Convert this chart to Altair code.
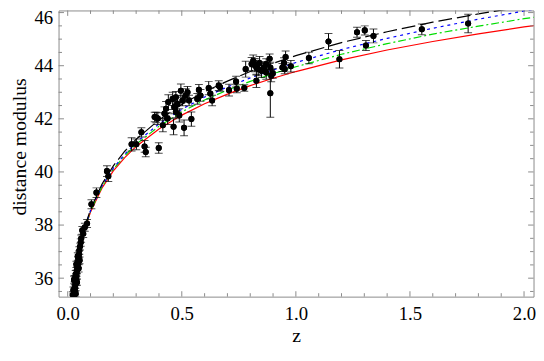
import altair as alt
import pandas as pd

# ---------------- data ----------------
sn_z = [0.022, 0.025, 0.028, 0.029, 0.031, 0.032, 0.033, 0.035, 0.028, 0.036,
        0.038, 0.035, 0.039, 0.041, 0.048, 0.042, 0.045, 0.038, 0.046, 0.052,
        0.048, 0.044, 0.049, 0.051, 0.054, 0.057, 0.059, 0.064, 0.068, 0.075,
        0.085, 0.104, 0.126, 0.041, 0.035, 0.030,
        0.172, 0.178, 0.280, 0.301, 0.323, 0.337, 0.342, 0.399, 0.381, 0.388,
        0.395, 0.417, 0.424, 0.431, 0.438, 0.441, 0.460, 0.464, 0.467, 0.474,
        0.474, 0.481, 0.489, 0.496, 0.503, 0.510, 0.517, 0.525, 0.532, 0.542,
        0.568, 0.575, 0.582, 0.618, 0.625, 0.633, 0.662, 0.668, 0.707, 0.738,
        0.741, 0.774, 0.780, 0.806, 0.813, 0.820, 0.827, 0.827, 0.835, 0.841,
        0.849, 0.860, 0.870, 0.870,
        0.885, 0.888, 0.892, 0.899, 0.888, 0.941, 0.948, 0.955, 0.951, 0.978,
        1.057, 1.143, 1.191, 1.268, 1.302, 1.307, 1.340, 1.552, 1.755]
sn_mu = [35.37, 35.55, 35.29, 35.41, 35.52, 35.63, 35.74, 35.85, 35.93, 35.96,
         36.07, 36.15, 36.19, 36.30, 36.37, 36.41, 36.52, 36.52, 36.67, 36.67,
         36.78, 36.82, 36.89, 37.04, 37.19, 37.34, 37.49, 37.80, 37.67, 37.92,
         38.06, 38.78, 39.22, 35.85, 35.41, 35.98,
         40.03, 39.84, 41.04, 41.04, 41.49, 40.96, 40.75, 40.90, 42.07, 42.05,
         42.01, 41.76, 42.20, 42.38, 42.01, 42.63, 42.75, 41.70, 42.44, 42.26,
         42.81, 42.57, 42.13, 43.06, 42.69, 41.66, 42.88, 43.00, 42.69, 41.99,
         42.75, 43.09, 42.88, 43.16, 42.95, 42.69, 43.25, 43.19, 43.08, 43.40,
         43.13, 43.16, 43.87, 44.06, 44.18, 44.02, 43.93, 43.43, 43.87, 44.10,
         43.81, 43.93, 43.74, 44.06,
         44.26, 43.93, 43.62, 43.71, 42.96, 43.93, 44.10, 44.33, 43.87, 43.98,
         44.29, 44.91, 44.24, 45.26, 45.33, 44.76, 45.12, 45.37, 45.59]
sn_err = [0.12, 0.12, 0.12, 0.12, 0.14, 0.12, 0.13, 0.12, 0.14, 0.13,
          0.12, 0.14, 0.12, 0.13, 0.14, 0.12, 0.13, 0.12, 0.14, 0.13,
          0.12, 0.14, 0.13, 0.14, 0.13, 0.14, 0.14, 0.15, 0.14, 0.15,
          0.15, 0.17, 0.18, 0.12, 0.12, 0.12,
          0.20, 0.20, 0.25, 0.20, 0.17, 0.22, 0.18, 0.20, 0.18, 0.20,
          0.22, 0.25, 0.25, 0.27, 0.22, 0.28, 0.25, 0.30, 0.25, 0.22,
          0.22, 0.30, 0.25, 0.25, 0.20, 0.30, 0.25, 0.22, 0.20, 0.27,
          0.20, 0.20, 0.22, 0.25, 0.20, 0.20, 0.18, 0.15, 0.22, 0.20,
          0.15, 0.12, 0.30, 0.25, 0.22, 0.25, 0.28, 0.25, 0.25, 0.25,
          0.25, 0.22, 0.25, 0.20,
          0.18, 0.20, 0.22, 0.18, 0.90, 0.15, 0.20, 0.22, 0.17, 0.22,
          0.22, 0.30, 0.33, 0.19, 0.17, 0.19, 0.26, 0.20, 0.35]

curve_z = [0.022, 0.03, 0.04, 0.05, 0.06, 0.075, 0.1, 0.15, 0.2, 0.25, 0.3, 0.4,
           0.5, 0.6, 0.7, 0.8, 0.9, 1.0, 1.2, 1.4, 1.6, 1.8, 2.0, 2.05]
mu_black = [35.18, 35.87, 36.51, 37.01, 37.42, 37.93, 38.59, 39.54, 40.23, 40.78, 41.23, 41.96,
            42.54, 43.02, 43.42, 43.78, 44.09, 44.38, 44.87, 45.28, 45.64, 45.95, 46.23, 46.30]
mu_blue = [35.17, 35.86, 36.49, 36.99, 37.39, 37.89, 38.55, 39.47, 40.14, 40.67, 41.11, 41.81,
           42.36, 42.82, 43.20, 43.54, 43.84, 44.12, 44.61, 45.03, 45.41, 45.75, 46.06, 46.14]
mu_green = [35.17, 35.85, 36.48, 36.98, 37.38, 37.87, 38.52, 39.44, 40.10, 40.61, 41.04, 41.72,
            42.26, 42.71, 43.08, 43.41, 43.70, 43.96, 44.43, 44.83, 45.19, 45.49, 45.77, 45.83]
mu_red = [35.16, 35.84, 36.47, 36.96, 37.36, 37.85, 38.49, 39.39, 40.04, 40.54, 40.96, 41.62,
          42.14, 42.57, 42.93, 43.25, 43.53, 43.78, 44.22, 44.59, 44.91, 45.20, 45.46, 45.52]

x_major = [0.0, 0.5, 1.0, 1.5, 2.0]
x_minor = [0.1, 0.2, 0.3, 0.4, 0.6, 0.7, 0.8, 0.9, 1.1, 1.2, 1.3, 1.4,
           1.6, 1.7, 1.8, 1.9]
y_major = [36, 38, 40, 42, 44, 46]
y_minor = [35.5, 36.5, 37, 37.5, 38.5, 39, 39.5, 40.5, 41, 41.5, 42.5, 43,
           43.5, 44.5, 45, 45.5]

# ---------------- layout / style ----------------
W = 482
H = 290.4
X_DOMAIN = [-0.0401, 2.0416]
Y_DOMAIN = [35.305, 46.08]
FRAME = "#8a8a8a"
FONT = "Liberation Serif"
LABEL_SIZE = 19
TITLE_SIZE = 20
MAJ = 5.5
MIN = 3.5

xs = alt.Scale(domain=X_DOMAIN, nice=False, zero=False)
ys = alt.Scale(domain=Y_DOMAIN, nice=False, zero=False)

sn = pd.DataFrame({"z": sn_z, "mu": sn_mu, "err": sn_err})
sn["lo"] = sn["mu"] - sn["err"]
sn["hi"] = sn["mu"] + sn["err"]

x_axis = alt.Axis(values=x_major, format=".1f", ticks=False, tickSize=0, domain=False,
                  grid=False, labelFont=FONT, labelFontSize=LABEL_SIZE, labelColor="black",
                  labelPadding=8, labelFlush=False, labelOverlap=False,
                  title="z", titleFont=FONT, titleFontSize=TITLE_SIZE, titleFontWeight="normal",
                  titleColor="black", titleBaseline="alphabetic", titleY=45.5)
y_axis = alt.Axis(values=y_major, format="d", ticks=False, tickSize=0, domain=False,
                  grid=False, labelFont=FONT, labelFontSize=LABEL_SIZE, labelColor="black",
                  labelPadding=6, labelFlush=False, labelOverlap=False,
                  labelOffset={"condition": {"test": "datum.value == 46", "value": 5}, "value": 0},
                  title="distance modulus", titleFont=FONT, titleFontSize=TITLE_SIZE,
                  titleFontWeight="normal", titleColor="black", titleAngle=270,
                  titleBaseline="alphabetic", titleAlign="center", titleX=-34.0, titleY=138)


def X(field):
    return alt.X(field, scale=xs, axis=x_axis)


def Y(field):
    return alt.Y(field, scale=ys, axis=y_axis)


def curve(values, color, dash=None):
    df = pd.DataFrame({"z": curve_z, "mu": values})
    kw = dict(color=color, strokeWidth=1.2, clip=True)
    if dash:
        kw["strokeDash"] = dash
    return alt.Chart(df).mark_line(**kw).encode(x=X("z:Q"), y=Y("mu:Q"))


def xticks(vals, length, top):
    df = pd.DataFrame({"z": vals})
    y0, y1 = (0, length) if top else (H, H - length)
    return alt.Chart(df).mark_rule(color=FRAME, strokeWidth=1).encode(
        x=X("z:Q"), y=alt.value(y0), y2=alt.value(y1))


def yticks(vals, length, right):
    df = pd.DataFrame({"mu": vals})
    x0, x1 = (W, W - length) if right else (0, length)
    return alt.Chart(df).mark_rule(color=FRAME, strokeWidth=1).encode(
        y=Y("mu:Q"), x=alt.value(x0), x2=alt.value(x1))


bars = alt.Chart(sn).mark_rule(color="black", strokeWidth=1, clip=True).encode(
    x=X("z:Q"), y=Y("lo:Q"), y2="hi:Q")
cap_lo = alt.Chart(sn).mark_tick(color="black", orient="horizontal", size=8,
                                 thickness=1, clip=True).encode(x=X("z:Q"), y=Y("lo:Q"))
cap_hi = alt.Chart(sn).mark_tick(color="black", orient="horizontal", size=8,
                                 thickness=1, clip=True).encode(x=X("z:Q"), y=Y("hi:Q"))
points = alt.Chart(sn).mark_circle(color="black", size=38, opacity=1, clip=True).encode(
    x=X("z:Q"), y=Y("mu:Q"))

chart = alt.layer(
    points,
    curve(mu_red, "#ff0000"),
    curve(mu_green, "#00dd00", [8, 3, 2, 3]),
    curve(mu_blue, "#0000ff", [3, 4]),
    curve(mu_black, "#000000", [14, 5]),
    xticks(x_major, MAJ, False), xticks(x_minor, MIN, False),
    xticks(x_major, MAJ, True), xticks(x_minor, MIN, True),
    yticks(y_major, MAJ, False), yticks(y_minor, MIN, False),
    yticks(y_major, MAJ, True), yticks(y_minor, MIN, True),
    bars, cap_lo, cap_hi, points,
).properties(
    width=W, height=H,
    autosize=alt.AutoSizeParams(type="none"),
    padding={"left": 51.3, "top": 0, "right": 2.5, "bottom": 48.6},
    background="white",
).configure_view(
    stroke=FRAME, strokeWidth=1
).configure_axis(
    labelFont=FONT, titleFont=FONT, labelFontSize=LABEL_SIZE, titleFontSize=TITLE_SIZE,
    labelColor="black", titleColor="black", titleFontWeight="normal"
)

chart.save("out.html", embed_options={"renderer": "svg", "actions": False})
